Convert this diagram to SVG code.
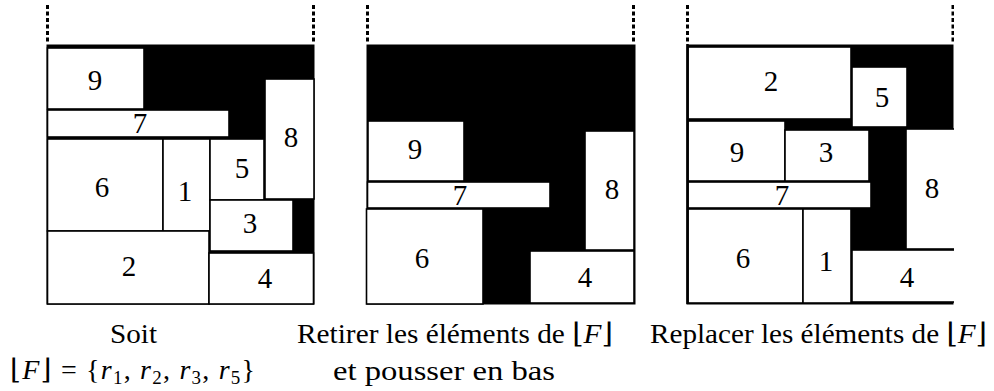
<svg xmlns="http://www.w3.org/2000/svg" width="994" height="391" viewBox="0 0 994 391">
<style>
.bg{fill:#000}
.r{fill:#fff;stroke:#000;stroke-width:1.6}
.d{stroke:#000;stroke-width:3;stroke-dasharray:4 2.5;fill:none}
.n{font-family:"Liberation Serif","Times New Roman",serif;font-size:29px;text-anchor:middle;fill:#000}
.c{font-family:"Liberation Serif","DejaVu Serif",serif;font-size:28px;fill:#000}
.i{font-style:italic}
</style>
<defs>
<clipPath id="clip3"><rect x="680" y="0" width="274" height="320"/></clipPath>
</defs>
<!-- Panel 1 -->
<g id="panel1">
<line class="d" x1="47.5" y1="5" x2="47.5" y2="44"/>
<line class="d" x1="313.5" y1="5" x2="313.5" y2="44"/>
<rect class="bg" x="46.5" y="44.5" width="268" height="260"/>
<g id="p1-9"><rect class="r" x="47.5" y="48" width="96.5" height="61"/><text class="n" x="95" y="90">9</text></g>
<g id="p1-7"><rect class="r" x="47.5" y="110" width="181.5" height="27"/><text class="n" x="140" y="133">7</text></g>
<g id="p1-8"><rect class="r" x="265" y="79" width="49" height="120"/><text class="n" x="291" y="147">8</text></g>
<g id="p1-6"><rect class="r" x="47.5" y="139" width="115.5" height="92"/><text class="n" x="102" y="197">6</text></g>
<g id="p1-1"><rect class="r" x="163" y="139" width="47" height="92"/><text class="n" x="185" y="201">1</text></g>
<g id="p1-5"><rect class="r" x="210" y="139" width="54" height="61"/><text class="n" x="242" y="178">5</text></g>
<g id="p1-3"><rect class="r" x="210" y="200" width="83" height="51"/><text class="n" x="250" y="233">3</text></g>
<g id="p1-2"><rect class="r" x="47.5" y="231" width="161.5" height="73"/><text class="n" x="129" y="276">2</text></g>
<g id="p1-4"><rect class="r" x="209" y="253" width="104.5" height="51"/><text class="n" x="265" y="288">4</text></g>
</g>
<!-- Panel 2 -->
<g id="panel2">
<line class="d" x1="367.5" y1="5" x2="367.5" y2="44"/>
<line class="d" x1="633.5" y1="5" x2="633.5" y2="44"/>
<rect class="bg" x="366.5" y="44.5" width="269" height="260"/>
<g id="p2-9"><rect class="r" x="368" y="121" width="96" height="60"/><text class="n" x="415" y="159">9</text></g>
<g id="p2-7"><rect class="r" x="367.5" y="182" width="182.5" height="26"/><text class="n" x="460" y="205">7</text></g>
<g id="p2-8"><rect class="r" x="585" y="131" width="49" height="119"/><text class="n" x="612" y="199">8</text></g>
<g id="p2-6"><rect class="r" x="366.5" y="209" width="116.5" height="95"/><text class="n" x="422" y="268">6</text></g>
<g id="p2-4"><rect class="r" x="530" y="251" width="104" height="52"/><text class="n" x="585" y="287">4</text></g>
</g>
<!-- Panel 3 -->
<g id="panel3" clip-path="url(#clip3)">
<line class="d" x1="687.5" y1="5" x2="687.5" y2="44"/>
<line class="d" x1="953" y1="5" x2="953" y2="44"/>
<rect class="bg" x="686.5" y="44.5" width="267" height="260"/>
<g id="p3-2"><rect class="r" x="688" y="47" width="163" height="72"/><text class="n" x="771" y="91">2</text></g>
<g id="p3-5"><rect class="r" x="852" y="67" width="55" height="60"/><text class="n" x="882" y="107">5</text></g>
<g id="p3-9"><rect class="r" x="688" y="121" width="97" height="60"/><text class="n" x="737" y="162">9</text></g>
<g id="p3-3"><rect class="r" x="785" y="130" width="84" height="51"/><text class="n" x="826" y="162">3</text></g>
<g id="p3-7"><rect class="r" x="688" y="182" width="183" height="26"/><text class="n" x="782" y="205">7</text></g>
<g id="p3-6"><rect class="r" x="688" y="209" width="115" height="94"/><text class="n" x="743" y="268">6</text></g>
<g id="p3-1"><rect class="r" x="803" y="209" width="48" height="94"/><text class="n" x="826" y="271">1</text></g>
<g id="p3-4"><rect class="r" x="852" y="250" width="110" height="52"/><text class="n" x="907" y="287">4</text></g>
<g id="p3-8"><rect class="r" x="906" y="129" width="60" height="120"/><text class="n" x="932" y="198">8</text></g>
<line x1="687.5" y1="44" x2="687.5" y2="304" stroke="#000" stroke-width="2.5"/>
</g>
<!-- Captions -->
<g id="captions">
<text class="c" x="110" y="343" textLength="47" lengthAdjust="spacingAndGlyphs">Soit</text>
<text class="c" x="10" y="379" textLength="245" lengthAdjust="spacing">⌊<tspan class="i">F</tspan>⌋ = {<tspan class="i">r</tspan><tspan dy="5" font-size="19">1</tspan><tspan dy="-5">, </tspan><tspan class="i">r</tspan><tspan dy="5" font-size="19">2</tspan><tspan dy="-5">, </tspan><tspan class="i">r</tspan><tspan dy="5" font-size="19">3</tspan><tspan dy="-5">, </tspan><tspan class="i">r</tspan><tspan dy="5" font-size="19">5</tspan><tspan dy="-5">}</tspan></text>
<text class="c" x="297" y="343" textLength="316" lengthAdjust="spacingAndGlyphs">Retirer les éléments de ⌊<tspan class="i">F</tspan>⌋</text>
<text class="c" x="333" y="380" textLength="222" lengthAdjust="spacingAndGlyphs">et pousser en bas</text>
<text class="c" x="650" y="343" textLength="337" lengthAdjust="spacingAndGlyphs">Replacer les éléments de ⌊<tspan class="i">F</tspan>⌋</text>
</g>
</svg>
